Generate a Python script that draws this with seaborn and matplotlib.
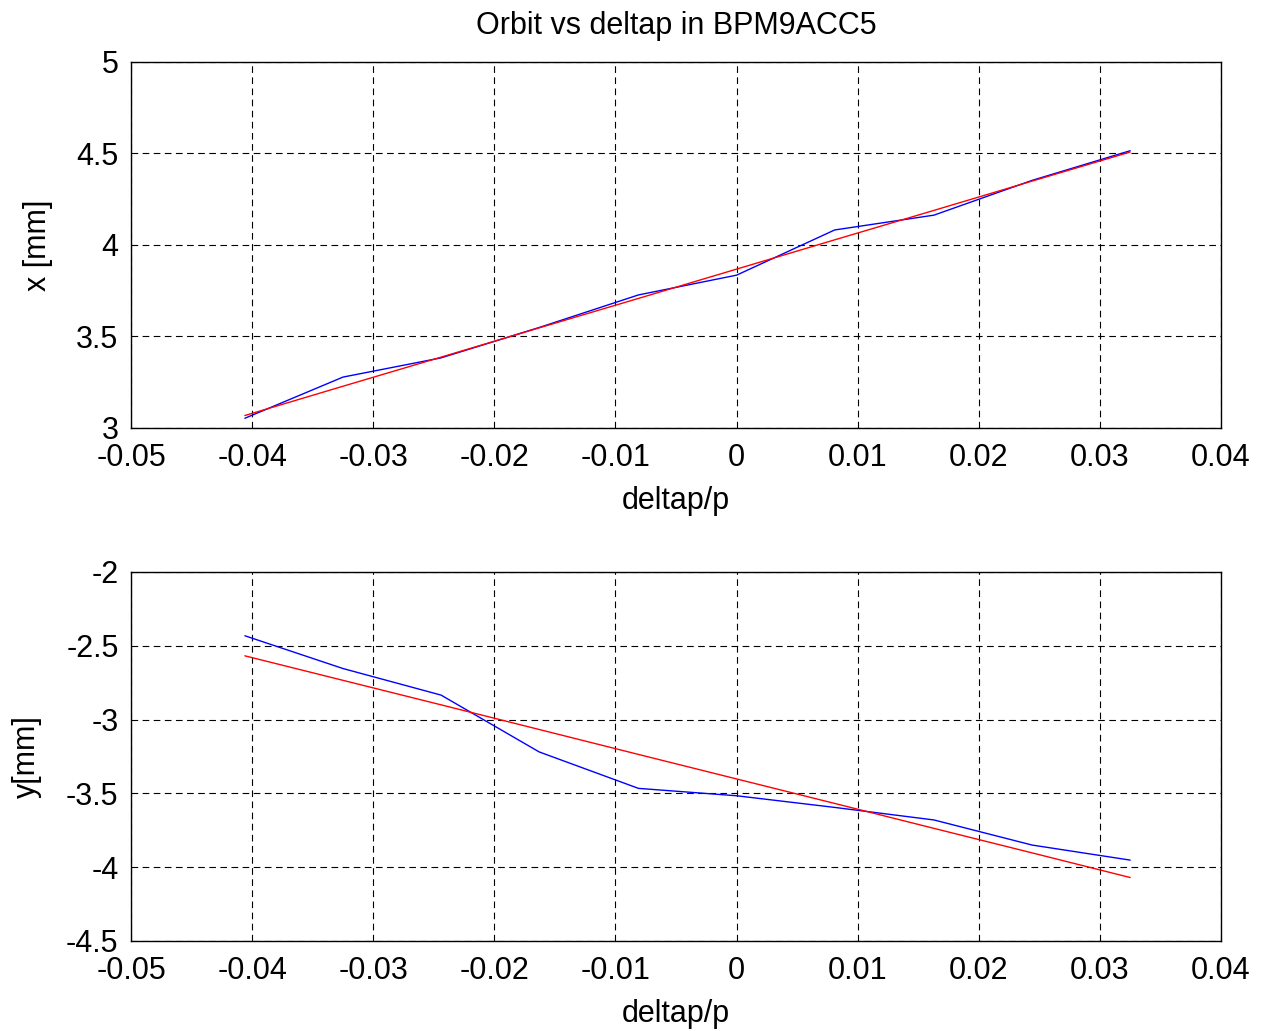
import matplotlib
matplotlib.use("Agg")
import matplotlib.pyplot as plt
import seaborn as sns
import pandas as pd

deltap = [-0.0406, -0.0325, -0.0244, -0.0163, -0.0081, 0.0, 0.0081, 0.0163, 0.0244, 0.0325]
x_meas = [3.053, 3.278, 3.383, 3.549, 3.727, 3.835, 4.082, 4.163, 4.353, 4.515]
x_fit = [3.068, 3.228, 3.387, 3.547, 3.708, 3.868, 4.028, 4.189, 4.349, 4.508]
y_meas = [-2.432, -2.654, -2.834, -3.219, -3.466, -3.516, -3.595, -3.680, -3.850, -3.952]
y_fit = [-2.568, -2.734, -2.900, -3.067, -3.236, -3.402, -3.568, -3.737, -3.903, -4.070]

xticks = [-0.05, -0.04, -0.03, -0.02, -0.01, 0, 0.01, 0.02, 0.03, 0.04]
xtick_labels = ["-0.05", "-0.04", "-0.03", "-0.02", "-0.01", "0", "0.01", "0.02", "0.03", "0.04"]
top_yticks = [3, 3.5, 4, 4.5, 5]
top_ylabels = ["3", "3.5", "4", "4.5", "5"]
bot_yticks = [-4.5, -4, -3.5, -3, -2.5, -2]
bot_ylabels = ["-4.5", "-4", "-3.5", "-3", "-2.5", "-2"]

sns.set_style("white")
plt.rcParams['font.family'] = ['Liberation Sans', 'DejaVu Sans']
plt.rcParams['text.color'] = 'black'
plt.rcParams['axes.labelcolor'] = 'black'
plt.rcParams['xtick.color'] = 'black'
plt.rcParams['ytick.color'] = 'black'

df_x = pd.DataFrame({"deltap": deltap, "meas": x_meas, "fit": x_fit})
df_y = pd.DataFrame({"deltap": deltap, "meas": y_meas, "fit": y_fit})

fig = plt.figure(figsize=(12.61, 10.31), dpi=100)
ax1 = fig.add_axes([0.1039, 0.5849, 0.8644, 0.3550])
ax2 = fig.add_axes([0.1039, 0.0873, 0.8644, 0.3579])

FS = 22

def style(ax, yticks, ylabels, ylim, ylabel):
    ax.set_xlim(-0.05, 0.04)
    ax.set_ylim(*ylim)
    ax.set_xticks(xticks)
    ax.set_xticklabels(xtick_labels, fontsize=FS, color='black')
    ax.set_yticks(yticks)
    ax.set_yticklabels(ylabels, fontsize=FS, color='black')
    ax.grid(True, color='black', linestyle=(0, (6, 4)), linewidth=0.8)
    ax.tick_params(axis='x', direction='in', length=0, pad=11)
    ax.tick_params(axis='y', direction='in', length=0, pad=9)
    for s in ax.spines.values():
        s.set_visible(True)
        s.set_color('black')
        s.set_linewidth(1.0)
    ax.set_xlabel("deltap/p", fontsize=FS, labelpad=9, color='black')
    ax.set_ylabel(ylabel, fontsize=FS, labelpad=17, color='black')
    if ax.get_legend() is not None:
        ax.get_legend().remove()

sns.lineplot(data=df_x, x="deltap", y="meas", ax=ax1, color='blue', linewidth=1.0)
sns.lineplot(data=df_x, x="deltap", y="fit", ax=ax1, color='red', linewidth=1.0)
style(ax1, top_yticks, top_ylabels, (3, 5), "x [mm]")
ax1.set_title("Orbit vs deltap in BPM9ACC5", fontsize=FS, pad=20, color='black')

sns.lineplot(data=df_y, x="deltap", y="meas", ax=ax2, color='blue', linewidth=1.0)
sns.lineplot(data=df_y, x="deltap", y="fit", ax=ax2, color='red', linewidth=1.0)
style(ax2, bot_yticks, bot_ylabels, (-4.5, -2), "y[mm]")

fig.savefig("out.png", dpi=100, facecolor='white')
